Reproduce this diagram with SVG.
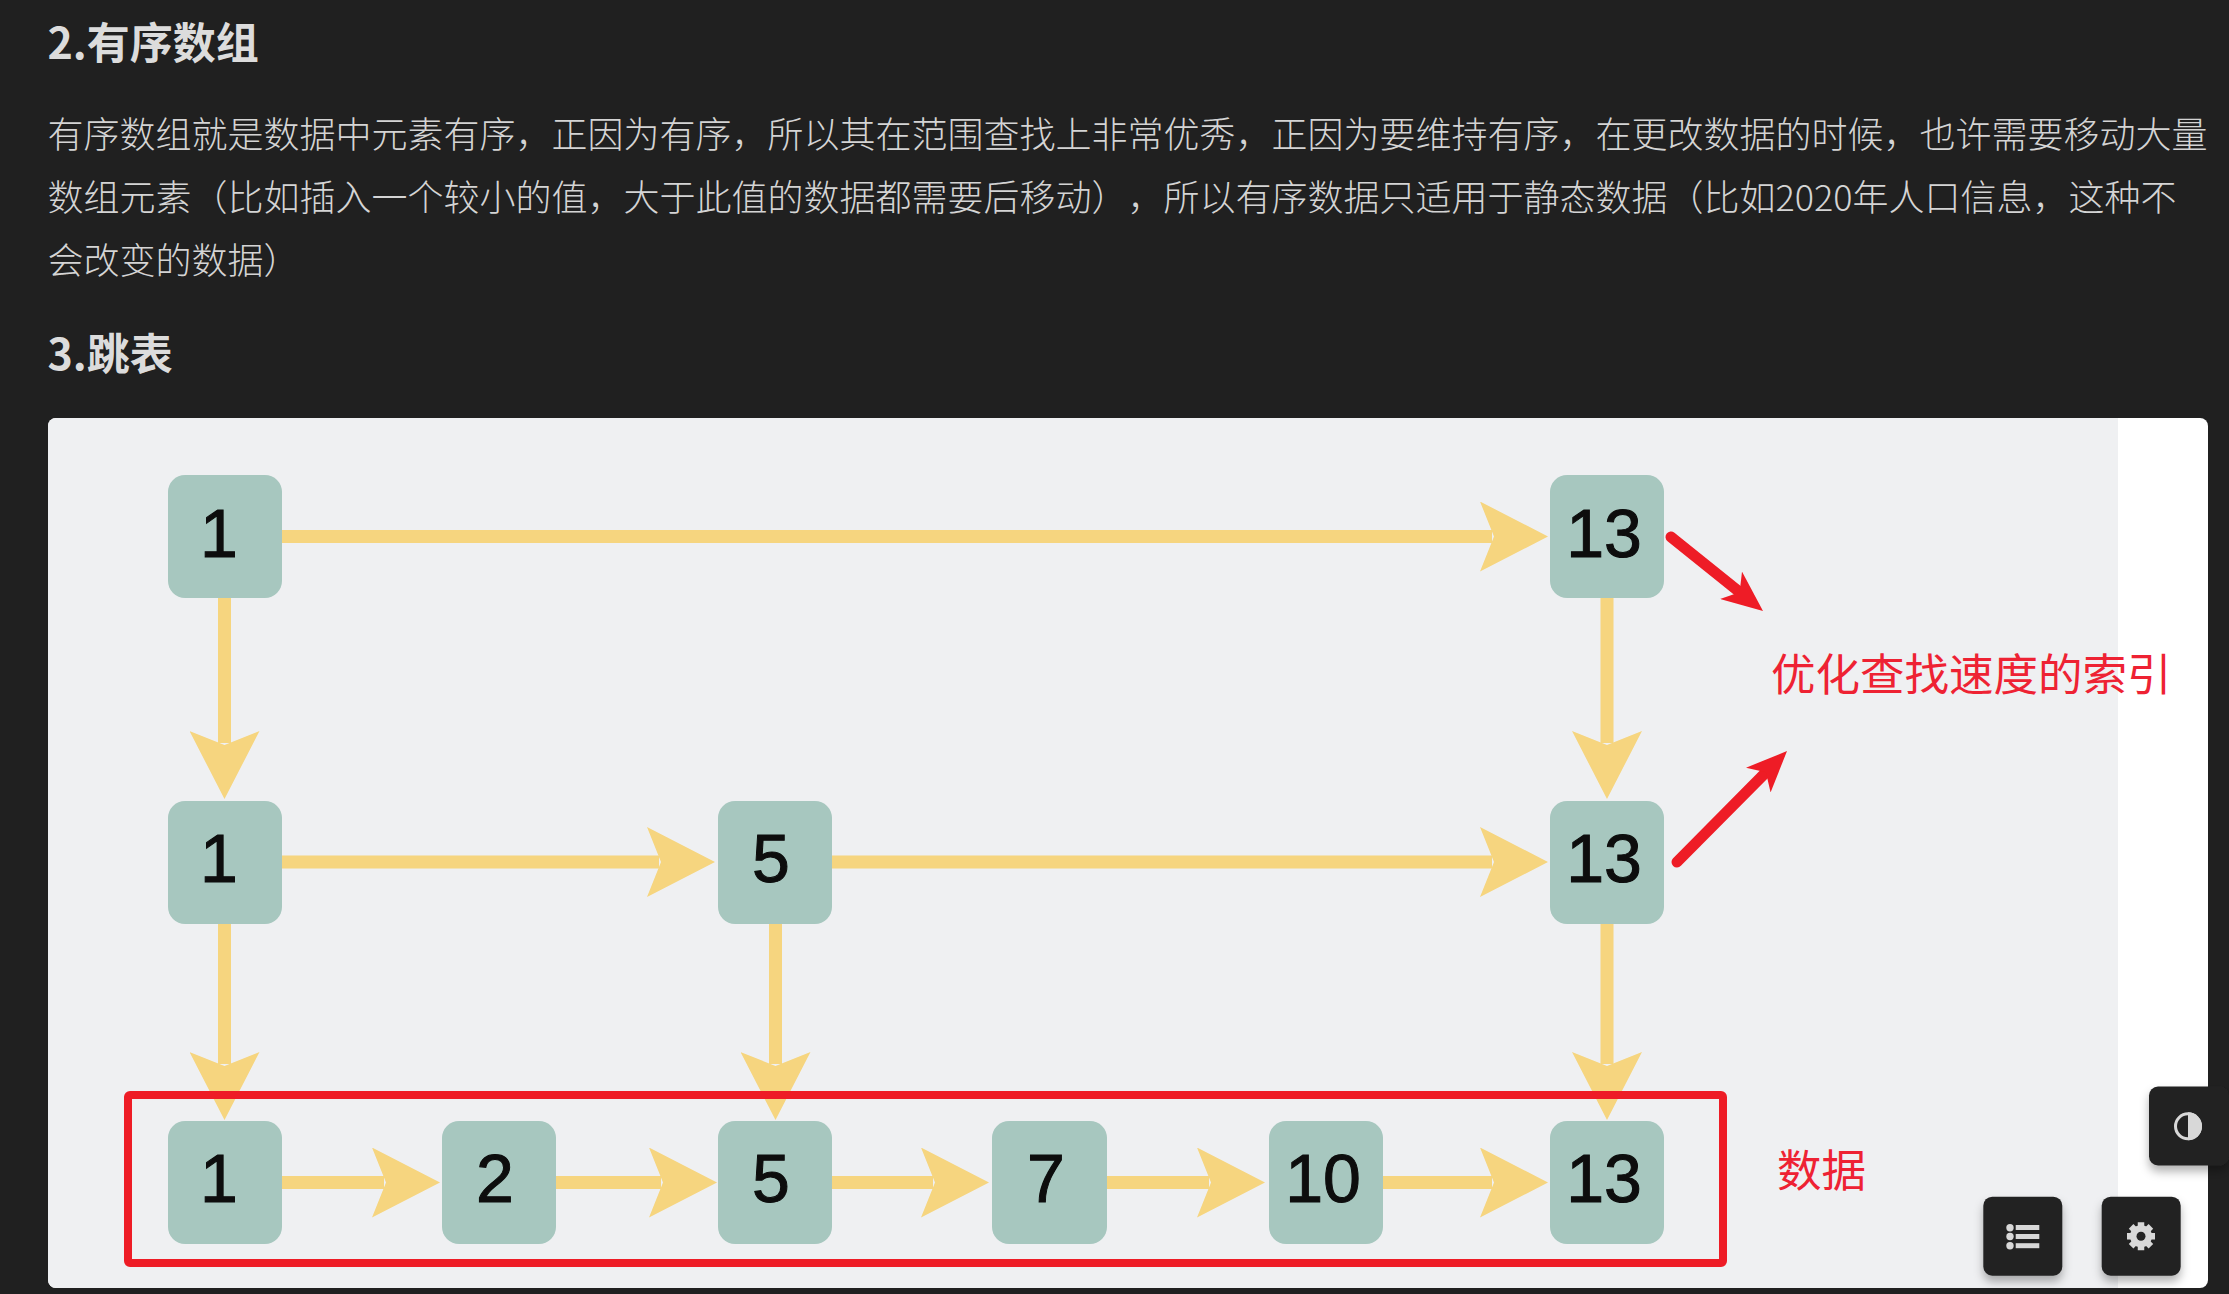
<svg xmlns="http://www.w3.org/2000/svg" width="2229" height="1294" viewBox="0 0 2229 1294">
<style>
.h{font-family:"Noto Sans CJK SC","Liberation Sans",sans-serif;font-weight:700;font-size:43px;fill:#dcdcdc}
.p{font-family:"Noto Sans CJK SC","Liberation Sans",sans-serif;font-size:36px;fill:#d4d4d4;font-weight:300;text-spacing-trim:space-all}
.n{fill:#a7c7bf}
.d{font-family:"Liberation Sans",Arial,sans-serif;font-size:68px;fill:#0a0a0a;stroke:#0a0a0a;stroke-width:1;text-anchor:middle}
.y{stroke:#f6d57f;stroke-width:13;fill:none;marker-end:url(#ya)}
.r{stroke:#ee1c25;stroke-width:11;stroke-linecap:round;fill:none;marker-end:url(#ra)}
.l{font-family:"Noto Sans CJK SC","Liberation Sans",sans-serif;font-size:44.500px;fill:#ee2233}
.b{fill:#242424;filter:url(#sh)}
.i{fill:#d8d8d8}
</style>
<defs>
<marker id="ya" markerUnits="userSpaceOnUse" markerWidth="68" markerHeight="70" viewBox="0 0 68 70" refX="12" refY="35" orient="auto"><path d="M0 0L68 35L0 70L14 35Z" fill="#f6d57f"/></marker>
<marker id="ra" markerUnits="userSpaceOnUse" markerWidth="41" markerHeight="35" viewBox="0 0 41 35" refX="12" refY="17.5" orient="auto"><path d="M0 0L41 17.5L0 35L11 17.5Z" fill="#ee1c25"/></marker>
<filter id="sh" x="-30%" y="-30%" width="160%" height="170%"><feDropShadow dx="0" dy="6" stdDeviation="5" flood-color="#000" flood-opacity="0.3"/></filter>
<filter id="bl" x="-2%" y="-2%" width="104%" height="104%"><feGaussianBlur stdDeviation="0.7"/></filter>
</defs>
<rect width="2229" height="1294" fill="#202020"/>
<g id="page-text">
<text class="h" x="47.500" y="59">2.有序数组</text>
<text class="p" x="47.500" y="148">有序数组就是数据中元素有序，正因为有序，所以其在范围查找上非常优秀，正因为要维持有序，在更改数据的时候，也许需要移动大量</text>
<text class="p" x="47.500" y="211">数组元素（比如插入一个较小的值，大于此值的数据都需要后移动），所以有序数据只适用于静态数据（比如2020年人口信息，这种不</text>
<text class="p" x="47.500" y="274">会改变的数据）</text>
<text class="h" x="47.500" y="370">3.跳表</text>
</g>
<g id="card">
<rect x="48" y="418" width="2160" height="870" rx="8" fill="#fff"/>
<path d="M56 418H2118V1288H56A8 8 0 0 1 48 1280V426A8 8 0 0 1 56 418Z" fill="#eff0f2"/>
</g>
<g id="figure" filter="url(#bl)">
<g id="connectors">
<path class="y" d="M282 536.500H1492"/>
<path class="y" d="M282 862H659"/>
<path class="y" d="M832 862H1492"/>
<path class="y" d="M282 1182.500H384"/>
<path class="y" d="M556 1182.500H661"/>
<path class="y" d="M832 1182.500H933"/>
<path class="y" d="M1107 1182.500H1209"/>
<path class="y" d="M1383 1182.500H1492"/>
<path class="y" d="M224.500 598V743"/>
<path class="y" d="M224.500 924V1064"/>
<path class="y" d="M775.500 924V1064"/>
<path class="y" d="M1607 598V743"/>
<path class="y" d="M1607 924V1064"/>
<path class="r" d="M1671 537L1740.400 592.800"/>
<path class="r" d="M1677 862L1766.600 771.600"/>
</g>
<rect id="data-box" x="128" y="1095" width="1595" height="168" rx="2" fill="none" stroke="#ee1c25" stroke-width="8"/>
<g id="n-1-top"><rect class="n" x="168" y="475" width="114" height="123" rx="17"/><text class="d" x="219" y="557">1</text></g>
<g id="n-13-top"><rect class="n" x="1550" y="475" width="114" height="123" rx="17"/><text class="d" x="1604" y="557">13</text></g>
<g id="n-1-mid"><rect class="n" x="168" y="801" width="114" height="123" rx="17"/><text class="d" x="219" y="882">1</text></g>
<g id="n-5-mid"><rect class="n" x="718" y="801" width="114" height="123" rx="17"/><text class="d" x="771" y="882">5</text></g>
<g id="n-13-mid"><rect class="n" x="1550" y="801" width="114" height="123" rx="17"/><text class="d" x="1604" y="882">13</text></g>
<g id="n-1"><rect class="n" x="168" y="1121" width="114" height="123" rx="17"/><text class="d" x="219" y="1202">1</text></g>
<g id="n-2"><rect class="n" x="442" y="1121" width="114" height="123" rx="17"/><text class="d" x="495" y="1202">2</text></g>
<g id="n-5"><rect class="n" x="718" y="1121" width="114" height="123" rx="17"/><text class="d" x="771" y="1202">5</text></g>
<g id="n-7"><rect class="n" x="992" y="1121" width="115" height="123" rx="17"/><text class="d" x="1046" y="1202">7</text></g>
<g id="n-10"><rect class="n" x="1269" y="1121" width="114" height="123" rx="17"/><text class="d" x="1323" y="1202">10</text></g>
<g id="n-13"><rect class="n" x="1550" y="1121" width="114" height="123" rx="17"/><text class="d" x="1604" y="1202">13</text></g>
</g>
<g id="label-index"><text class="l" x="1771" y="691">优化查找速度的索引</text></g>
<g id="label-data"><text class="l" x="1777" y="1187">数据</text></g>
<g id="btn-contrast"><rect class="b" x="2149" y="1086.500" width="80" height="79" rx="9"/><circle cx="2188" cy="1126.300" r="12.500" fill="none" stroke="#d8d8d8" stroke-width="3"/><path class="i" d="M2188 1112.300A14 14 0 0 1 2188 1140.300Z"/></g>
<g id="btn-list"><rect class="b" x="1983.300" y="1196.700" width="79" height="79" rx="9"/><circle class="i" cx="2010" cy="1227.700" r="3.700"/><circle class="i" cx="2010" cy="1236.500" r="3.700"/><circle class="i" cx="2010" cy="1245.700" r="3.700"/><rect class="i" x="2015.700" y="1225" width="23.600" height="5"/><rect class="i" x="2015.700" y="1234" width="23.600" height="5"/><rect class="i" x="2015.700" y="1243.200" width="23.600" height="5"/></g>
<g id="btn-gear"><rect class="b" x="2101.700" y="1196.700" width="79" height="79" rx="9"/><path stroke="#d8d8d8" stroke-width="6.500" d="M2141 1222.300V1250.300M2127 1236.300H2155M2131.100 1226.400L2150.900 1246.200M2150.900 1226.400L2131.100 1246.200"/><circle cx="2141" cy="1236.300" r="11" fill="#d8d8d8"/><circle cx="2141" cy="1236.300" r="4.500" fill="#242424"/></g>
</svg>
